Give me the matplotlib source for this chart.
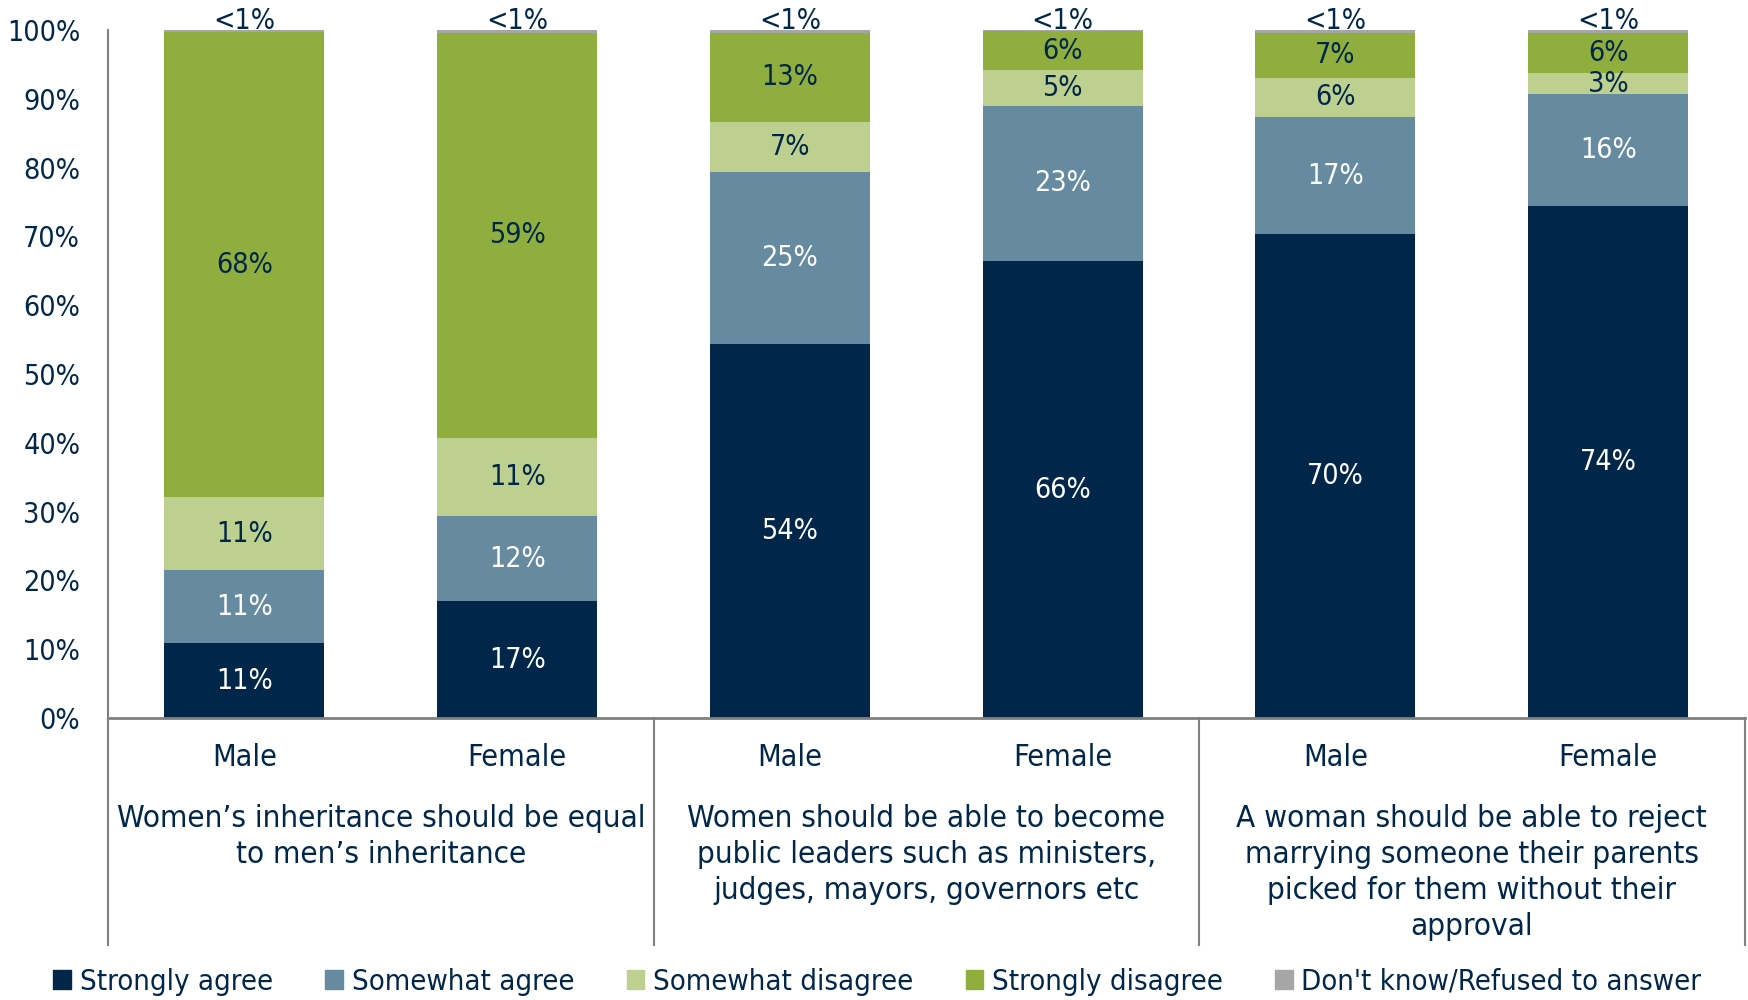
import matplotlib
matplotlib.use("Agg")
import matplotlib.pyplot as plt
from matplotlib.patches import Patch

# Attitudes on women's rights, by gender of respondent.

plt.rcParams['font.family'] = ['DejaVu Sans']
plt.rcParams['font.stretch'] = 'condensed'

genders = ["Male", "Female", "Male", "Female", "Male", "Female"]
questions = [
    "Women\u2019s inheritance should be equal\nto men\u2019s inheritance",
    "Women should be able to become\npublic leaders such as ministers,\njudges, mayors, governors etc",
    "A woman should be able to reject\nmarrying someone their parents\npicked for them without their\napproval",
]
series = ["Strongly agree", "Somewhat agree", "Somewhat disagree",
          "Strongly disagree", "Don't know/Refused to answer"]

strongly_agree = [10.9, 17.0, 54.3, 66.4, 70.3, 74.4]
somewhat_agree = [10.6, 12.3, 25.0, 22.6, 17.1, 16.3]
somewhat_disagree = [10.6, 11.4, 7.4, 5.2, 5.6, 3.0]
strongly_disagree = [67.6, 58.9, 12.9, 5.6, 6.6, 5.9]
dont_know = [0.3, 0.4, 0.4, 0.2, 0.4, 0.4]

colors = ["#00264A", "#668BA0", "#BDD08F", "#8FAE3E", "#A6A6A6"]
label_colors = ["white", "white", "#00264A", "#00264A"]
navy = "#00264A"
grey = "#808080"

fig = plt.figure(figsize=(17.48, 10), dpi=100)
ax = fig.add_axes([0.0618, 0.282, 0.9362, 0.688])

x = list(range(len(genders)))
bottom = [0.0] * len(x)
for vals, col, name in zip([strongly_agree, somewhat_agree, somewhat_disagree,
                            strongly_disagree, dont_know], colors, series):
    ax.bar(x, vals, bottom=bottom, width=0.587, color=col, label=name, clip_on=False)
    bottom = [b + v for b, v in zip(bottom, vals)]

# segment labels
bottom = [0.0] * len(x)
for k, vals in enumerate([strongly_agree, somewhat_agree, somewhat_disagree, strongly_disagree]):
    for i, v in enumerate(vals):
        ax.text(i, bottom[i] + v / 2, f"{v:.0f}%", ha="center", va="center",
                fontsize=20.5, color=label_colors[k])
    bottom = [b + v for b, v in zip(bottom, vals)]
for i in x:
    ax.text(i, 101.3, "<1%", ha="center", va="center", fontsize=20.5, color=navy)

ax.set_xlim(-0.5, 5.5)
ax.set_ylim(0, 100)
ax.set_yticks(range(0, 101, 10))
ax.set_yticklabels([f"{t}%" for t in range(0, 101, 10)], fontsize=20.5, color=navy)
ax.tick_params(axis="y", length=0, pad=20)
ax.set_xticks([])
for s in ["top", "right"]:
    ax.spines[s].set_visible(False)
ax.spines["left"].set_color(grey)
ax.spines["bottom"].set_color(grey)
ax.spines["left"].set_linewidth(1.5)
ax.spines["bottom"].set_linewidth(2)

# category axis: genders, question groups, separators
trans = ax.get_xaxis_transform()
for i, g in enumerate(genders):
    ax.text(i, -0.057, g, transform=trans, ha="center", va="center",
            fontsize=22, color=navy)
for j, q in enumerate(questions):
    ax.text(2 * j + 0.5, -0.125, q, transform=trans, ha="center", va="top",
            fontsize=22.5, color=navy, linespacing=1.31)
for sx in [-0.5, 1.5, 3.5, 5.5]:
    ax.plot([sx, sx], [0, -0.33], transform=trans, color=grey, lw=1.5, clip_on=False)

handles = [Patch(color=c, label=n) for c, n in zip(colors, series)]
fig.legend(handles=handles, loc="center", bbox_to_anchor=(0.502, 0.018), ncol=5,
           frameon=False, fontsize=21, labelcolor=navy, handlelength=0.6,
           handleheight=0.6, handletextpad=0.3, columnspacing=1.8)

fig.savefig("out.png", dpi=100)
